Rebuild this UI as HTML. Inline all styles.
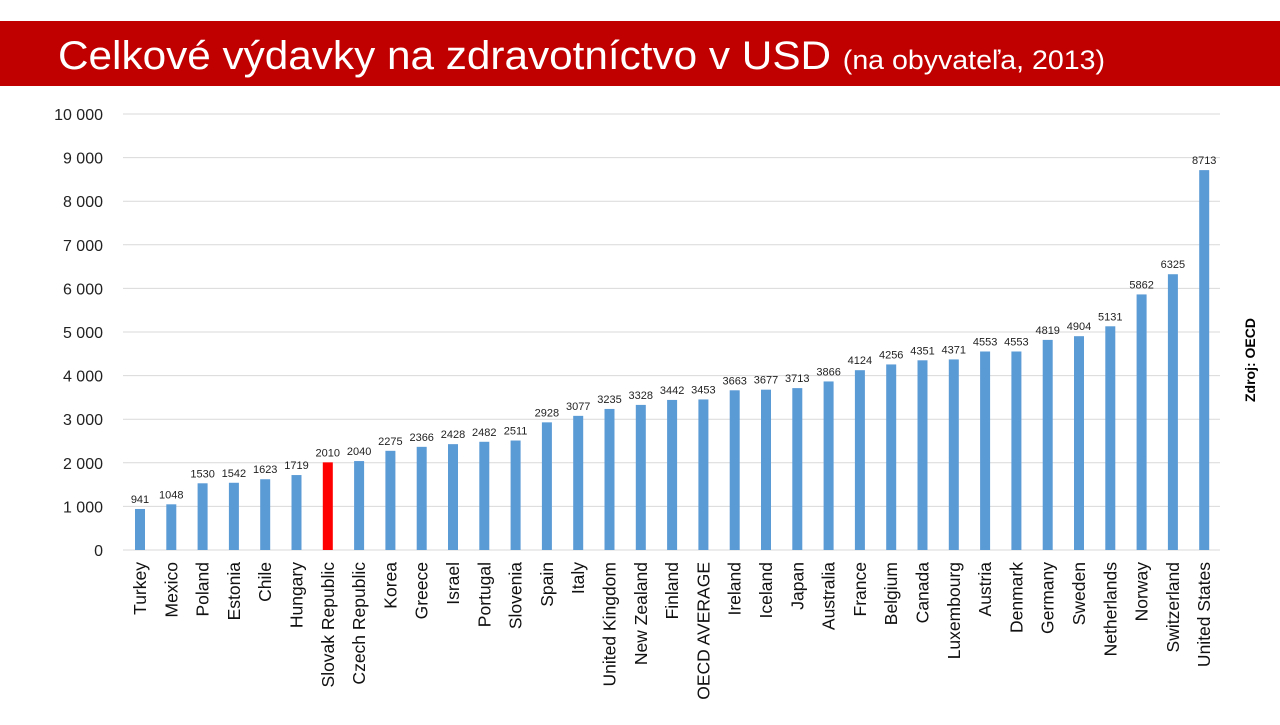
<!DOCTYPE html>
<html><head><meta charset="utf-8"><style>
body{margin:0;width:1280px;height:720px;background:#fff;overflow:hidden;font-family:"Liberation Sans",sans-serif}
</style></head><body>
<svg width="1280" height="720" xmlns="http://www.w3.org/2000/svg" font-family="Liberation Sans, sans-serif">
<rect x="0" y="21" width="1280" height="65" fill="#c00000"/>
<text x="58" y="69" fill="#fff" font-size="40" textLength="1047" lengthAdjust="spacingAndGlyphs">Celkové výdavky na zdravotníctvo v USD <tspan font-size="27">(na obyvateľa, 2013)</tspan></text>
<g id="g"></g>
<text transform="translate(1255,360) rotate(-90)" text-anchor="middle" font-size="14" font-weight="bold">Zdroj: OECD</text>
</svg>
<script>
const d=[["Turkey",941],["Mexico",1048],["Poland",1530],["Estonia",1542],["Chile",1623],["Hungary",1719],["Slovak Republic",2010],["Czech Republic",2040],["Korea",2275],["Greece",2366],["Israel",2428],["Portugal",2482],["Slovenia",2511],["Spain",2928],["Italy",3077],["United Kingdom",3235],["New Zealand",3328],["Finland",3442],["OECD AVERAGE",3453],["Ireland",3663],["Iceland",3677],["Japan",3713],["Australia",3866],["France",4124],["Belgium",4256],["Canada",4351],["Luxembourg",4371],["Austria",4553],["Denmark",4553],["Germany",4819],["Sweden",4904],["Netherlands",5131],["Norway",5862],["Switzerland",6325],["United States",8713]];
let s="";
for(let i=0;i<=10;i++){const y=550-i*43.6;s+=`<line x1="123" x2="1220" y1="${y}" y2="${y}" stroke="#d9d9d9" stroke-width="1"/>`;
s+=`<text x="103" y="${y+6}" text-anchor="end" font-size="16" fill="#222">${i==0?"0":(i*1000).toLocaleString("en").replace(","," ")}</text>`;}
d.forEach((e,i)=>{const cx=140+i*31.3,h=e[1]*0.0436,y=550-h;
s+=`<rect x="${cx-5}" y="${y}" width="10" height="${h}" fill="${i==6?'#ff0000':'#5b9bd5'}"/>`;
s+=`<text x="${cx}" y="${y-6}" text-anchor="middle" font-size="11" fill="#222">${e[1]}</text>`;
s+=`<text transform="translate(${cx+6},562) rotate(-90)" text-anchor="end" font-size="17.5" fill="#111">${e[0]}</text>`;});
document.getElementById("g").innerHTML=s;
</script>
</body></html>
